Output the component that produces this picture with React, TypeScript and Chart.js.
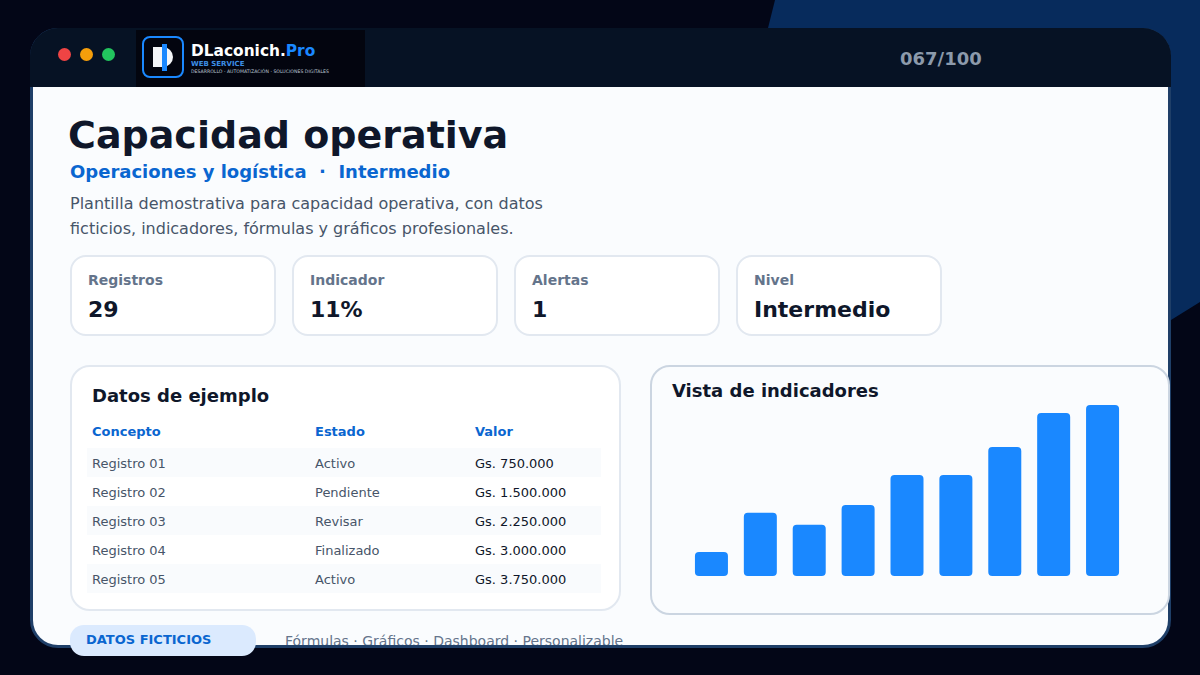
import { useEffect, useRef } from "react";
import type { CSSProperties } from "react";
import { Chart, registerables } from "chart.js";

Chart.register(...registerables);

const barLabels = ["1", "2", "3", "4", "5", "6", "7", "8", "9"];
const barValues = [14, 37, 30, 41.5, 59, 59, 75.5, 95.3, 100];

const statCards = [
  { label: "Registros", value: "29", left: 70 },
  { label: "Indicador", value: "11%", left: 292 },
  { label: "Alertas", value: "1", left: 514 },
  { label: "Nivel", value: "Intermedio", left: 736 },
];

const tableHead = ["Concepto", "Estado", "Valor"];
const tableRows = [
  ["Registro 01", "Activo", "Gs. 750.000"],
  ["Registro 02", "Pendiente", "Gs. 1.500.000"],
  ["Registro 03", "Revisar", "Gs. 2.250.000"],
  ["Registro 04", "Finalizado", "Gs. 3.000.000"],
  ["Registro 05", "Activo", "Gs. 3.750.000"],
];
const columnLeft = [92, 315, 475];

const FONT = "'DejaVu Sans', sans-serif";

function box(left: number, top: number, width: number, height: number, extra: CSSProperties = {}): CSSProperties {
  return { position: "absolute", left, top, width, height, boxSizing: "border-box", ...extra };
}

function text(left: number, centerY: number, size: number, color: string, weight: number | string = 400): CSSProperties {
  return {
    position: "absolute",
    left,
    top: centerY - 20,
    height: 40,
    lineHeight: "40px",
    fontSize: size,
    color,
    fontWeight: weight,
    whiteSpace: "nowrap",
  };
}

function BarPanel() {
  const canvasRef = useRef<HTMLCanvasElement>(null);

  useEffect(() => {
    if (!canvasRef.current) return;
    const chart = new Chart(canvasRef.current, {
      type: "bar",
      data: {
        labels: barLabels,
        datasets: [
          {
            data: barValues,
            backgroundColor: "#1a88ff",
            borderRadius: 4,
            borderSkipped: false,
            categoryPercentage: 0.675,
            barPercentage: 1,
          },
        ],
      },
      options: {
        animation: false,
        responsive: false,
        maintainAspectRatio: false,
        layout: { padding: 0 },
        plugins: { legend: { display: false }, tooltip: { enabled: false } },
        scales: {
          x: { display: false },
          y: { display: false, min: 0, max: 100 },
        },
      },
    });
    return () => chart.destroy();
  }, []);

  return (
    <div style={box(687, 405, 440, 171)}>
      <canvas ref={canvasRef} width={440} height={171} style={{ display: "block", width: 440, height: 171 }} />
    </div>
  );
}

export default function App() {
  useEffect(() => {
    document.body.style.margin = "0";
    document.body.style.background = "#030617";
  }, []);

  return (
    <div style={{ position: "relative", width: 1200, height: 675, overflow: "hidden", background: "#030617", fontFamily: FONT }}>
      {/* blue corner behind the window */}
      <div style={box(0, 0, 1200, 675, { background: "#072b5c", clipPath: "polygon(775px 0, 1200px 0, 1200px 302px, 1171px 320px, 1171px 90px, 768px 28px)" })} />

      {/* window */}
      <div style={box(30, 28, 1141, 620, { background: "#fafcfe", borderRadius: 28, border: "3px solid #1f3f68", overflow: "hidden" })} />
      <div style={box(30, 28, 1141, 59, { background: "#061224", borderRadius: "28px 28px 0 0" })} />

      {/* traffic lights */}
      <div style={box(58, 48, 13, 13, { background: "#ef4444", borderRadius: "50%" })} />
      <div style={box(80, 48, 13, 13, { background: "#f59e0b", borderRadius: "50%" })} />
      <div style={box(102, 48, 13, 13, { background: "#22c55e", borderRadius: "50%" })} />

      {/* logo */}
      <div style={box(136, 30, 229, 57, { background: "#03050f" })} />
      <div style={box(142, 36, 42, 42, { border: "2px solid #1a88ff", borderRadius: 8 })} />
      <div style={box(153, 47, 20, 20, { background: "#f3f5f8", borderRadius: "0 10px 10px 0" })} />
      <div style={box(162, 44, 5, 27, { background: "#1a88ff" })} />
      <div style={text(191, 51, 15.4, "#ffffff", 700)}>
        DLaconich.<span style={{ color: "#1a88ff" }}>Pro</span>
      </div>
      <div style={text(191, 63.5, 7, "#3d8fe6", 700)}>WEB SERVICE</div>
      <div style={{ ...text(191, 72, 4.65, "#b9c2cf", 400) }}>DESARROLLO · AUTOMATIZACIÓN · SOLUCIONES DIGITALES</div>

      <div style={text(900, 59, 18, "#8c9aab", 700)}>067/100</div>

      {/* heading */}
      <div style={text(68, 135, 38, "#0f172a", 700)}>Capacidad operativa</div>
      <div style={text(70, 172, 18, "#0a66d0", 700)}>Operaciones y logística&nbsp; ·&nbsp; Intermedio</div>
      <div style={text(70, 204, 16, "#475569")}>Plantilla demostrativa para capacidad operativa, con datos</div>
      <div style={text(70, 229, 16, "#475569")}>ficticios, indicadores, fórmulas y gráficos profesionales.</div>

      {/* stat cards */}
      {statCards.map((card) => (
        <div key={card.label}>
          <div style={box(card.left, 255, 206, 81, { background: "#ffffff", border: "2px solid #e2e8f0", borderRadius: 16 })} />
          <div style={text(card.left + 18, 280, 14, "#64748b", 700)}>{card.label}</div>
          <div style={text(card.left + 18, 310, 22, "#0f172a", 700)}>{card.value}</div>
        </div>
      ))}

      {/* table panel */}
      <div style={box(70, 365, 551, 246, { background: "#ffffff", border: "2px solid #e2e8f0", borderRadius: 20 })} />
      <div style={text(92, 396, 18, "#0f172a", 700)}>Datos de ejemplo</div>
      {tableHead.map((head, i) => (
        <div key={head} style={text(columnLeft[i], 432, 13, "#0a66d0", 700)}>{head}</div>
      ))}
      {tableRows.map((row, r) => (
        <div key={row[0]}>
          {r % 2 === 0 && <div style={box(87, 448 + r * 29, 514, 29, { background: "#f9fbfd" })} />}
          {row.map((cell, c) => (
            <div key={c} style={text(columnLeft[c], 463.5 + r * 29, 13, c === 2 ? "#0f172a" : "#475569")}>{cell}</div>
          ))}
        </div>
      ))}

      {/* chart panel */}
      <div style={box(650, 365, 520, 250, { background: "#fafcfe", border: "2px solid #cbd5e1", borderRadius: 20 })} />
      <div style={text(672, 391, 18, "#0f172a", 700)}>Vista de indicadores</div>
      <BarPanel />

      {/* footer: clipped by the window edge in the reference */}
      <div style={box(0, 620, 1200, 25, { overflow: "hidden" })}>
        <div style={{ ...text(285, 21, 14, "#64748b") }}>Fórmulas · Gráficos · Dashboard · Personalizable</div>
      </div>
      <div style={box(70, 625, 186, 31, { background: "#dbeafe", borderRadius: 14 })} />
      <div style={text(86, 639.5, 13, "#0a66d0", 700)}>DATOS FICTICIOS</div>
    </div>
  );
}
